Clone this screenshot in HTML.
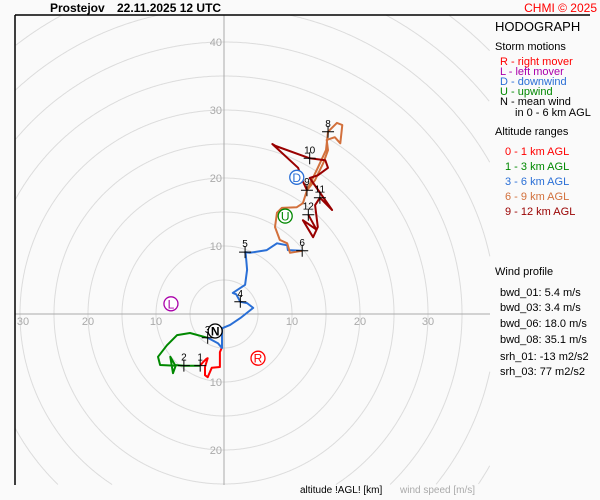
<!DOCTYPE html>
<html><head><meta charset="utf-8"><style>
html,body{margin:0;padding:0;background:#fafafa;width:600px;height:500px;overflow:hidden;}
svg{display:block;font-family:"Liberation Sans",sans-serif;}
</style></head><body>
<svg id="c" width="600" height="500" viewBox="0 0 600 500">
<rect width="600" height="500" fill="#fafafa"/>
<g id="rings"></g>
<g id="axes"></g>
<g id="series"></g>
<g id="marks"></g>
<line x1="15" y1="15" x2="590" y2="15" stroke="#000" stroke-width="1.5"/>
<line x1="15" y1="15" x2="15" y2="485" stroke="#000" stroke-width="1.5"/>
<text x="50" y="12" font-size="12" font-weight="bold">Prostejov</text>
<text x="117" y="12" font-size="12" font-weight="bold">22.11.2025 12 UTC</text>
<text x="597" y="12" font-size="12" fill="#f00" text-anchor="end">CHMI © 2025</text>
<g font-size="11">
<text x="495" y="31" font-size="13">HODOGRAPH</text>
<text x="495" y="50">Storm motions</text>
<text x="500" y="65" fill="#f00">R - right mover</text>
<text x="500" y="75" fill="#a0a">L - left mover</text>
<text x="500" y="85" fill="#2a6fd6">D - downwind</text>
<text x="500" y="95" fill="#080">U - upwind</text>
<text x="500" y="105">N - mean wind</text>
<text x="515" y="116">in 0 - 6 km AGL</text>
<text x="495" y="135">Altitude ranges</text>
<text x="505" y="155" fill="#f00">0 - 1 km AGL</text>
<text x="505" y="170" fill="#080">1 - 3 km AGL</text>
<text x="505" y="185" fill="#2a6fd6">3 - 6 km AGL</text>
<text x="505" y="200" fill="#d2703c">6 - 9 km AGL</text>
<text x="505" y="215" fill="#900">9 - 12 km AGL</text>
<text x="495" y="275">Wind profile</text>
<text x="500" y="296">bwd_01: 5.4 m/s</text>
<text x="500" y="311">bwd_03: 3.4 m/s</text>
<text x="500" y="327">bwd_06: 18.0 m/s</text>
<text x="500" y="343">bwd_08: 35.1 m/s</text>
<text x="500" y="360">srh_01: -13 m2/s2</text>
<text x="500" y="375">srh_03: 77 m2/s2</text>
</g>
<text x="300" y="493" font-size="10">altitude !AGL! [km]</text>
<text x="400" y="493" font-size="10" fill="#aaa">wind speed [m/s]</text>
</svg>
<script>
const ringValues=[5,10,15,20,25,30,35,40,45,50,55,60];
const axisTicks=[10,20,30,40];
const seg01U=[-0.3,-0.6,-0.6,-1.8,-2.4,-2.8,-2.8,-2.4,-2.6,-3.1,-3.5];
const seg01V=[-4.9,-5.6,-7.8,-7.9,-9.3,-9.0,-7.8,-6.5,-6.6,-7.1,-7.6];
const seg13U=[-3.5,-5.9,-7.2,-7.9,-7.5,-7.1,-9.4,-9.7,-8.4,-6.9,-5.0,-2.4];
const seg13V=[-7.6,-7.6,-7.5,-6.3,-8.7,-7.6,-7.5,-6.3,-4.6,-3.1,-2.8,-3.5];
const seg36U=[-2.4,-0.9,-0.3,-0.3,-0.3,0.9,2.4,4.3,3.4,2.4,1.8,1.3,3.1,3.4,3.2,3.1,3.8,6.3,7.8,9.3,9.4,11.5];
const seg36V=[-3.5,-4.3,-5.0,-3.5,-2.1,-1.6,-0.6,0.9,1.6,1.8,2.9,3.1,4.3,6.5,8.7,9.1,9.0,9.4,10.4,10.1,9.4,9.3];
const seg69U=[11.5,9.7,9.3,8.2,7.5,7.8,8.5,10.7,11.6,12.2,13.4,14.6,15.3,15.1,16.3,17.1,17.4,16.6,15.6,15.3,15.0,13.8,12.2];
const seg69V=[9.3,9.0,10.4,10.9,12.8,14.9,15.6,15.7,16.3,18.2,19.7,22.2,24.1,25.6,26.0,25.1,27.8,28.1,27.1,26.8,24.1,21.5,18.2];
const seg912U=[12.2,11.5,10.9,7.1,7.6,12.6,14.9,15.3,13.8,12.6,15.9,14.1,13.4,13.8,13.1,11.6,13.6,12.4];
const seg912V=[18.2,19.7,21.5,25.0,24.7,22.9,22.6,21.5,20.4,20.0,15.3,17.1,16.0,12.8,11.3,13.8,12.4,14.6];
const levelLabels=["1","2","3","4","5","6","8","9","10","11","12"];
const levelU=[-3.5,-5.9,-2.4,2.4,3.1,11.5,15.3,12.2,12.6,14.1,12.4];
const levelV=[-7.6,-7.6,-3.5,1.8,9.1,9.3,26.8,18.2,22.9,17.1,14.6];
const motionLabels=["R","L","D","U","N"];
const motionU=[5.0,-7.8,10.7,9.0,-1.3];
const motionV=[-6.5,1.5,20.1,14.4,-2.5];

const CX=224,CY=314,S=6.8;
const X0=15,X1=490,Y0=15,Y1=485;
const px=u=>CX+u*S, py=v=>CY-v*S;
const NS='http://www.w3.org/2000/svg';
function mk(tag,parent,attrs){const e=document.createElementNS(NS,tag);for(const k in attrs)e.setAttribute(k,attrs[k]);parent.appendChild(e);return e;}
const rings=document.getElementById('rings'),axes=document.getElementById('axes'),series=document.getElementById('series'),marks=document.getElementById('marks');
ringValues.forEach(r=>{
 const R=r*S;let d='',pen=false;
 for(let k=0;k<=1440;k++){const a=k/1440*2*Math.PI;const x=CX+R*Math.cos(a),y=CY-R*Math.sin(a);
  const inside=x>=X0&&x<=X1&&y>=Y0&&y<=Y1;
  if(inside){d+=(pen?'L':'M')+x.toFixed(1)+' '+y.toFixed(1);pen=true;}else pen=false;}
 if(!d)return;
 const c=mk('path',rings,{d:d,fill:'none',stroke:'#dcdcdc','stroke-width':1});
 
 });
let l=mk('line',axes,{x1:15,y1:CY,x2:490,y2:CY,stroke:'#aaa'});


l=mk('line',axes,{x1:CX,y1:15,x2:CX,y2:485,stroke:'#aaa'});


axisTicks.forEach(t=>{
 [px(t),px(-t)].forEach(x=>{if(x>14&&x<490){const e=mk('text',axes,{x:Math.max(x,23),y:CY+11,'font-size':11,fill:'#aaa','text-anchor':'middle'});e.textContent=t;
 
 }});
 [py(t),py(-t)].forEach(y=>{if(y>20&&y<485){const e=mk('text',axes,{x:CX-2,y:y+4,'font-size':11,fill:'#aaa','text-anchor':'end'});e.textContent=t;
 
 }});
});
function seg(U,V,col,name){const d=U.map((u,i)=>(i?'L':'M')+px(u).toFixed(1)+' '+py(V[i]).toFixed(1)).join(' ');
 const p=mk('path',series,{d:d,fill:'none',stroke:col,'stroke-width':2,'stroke-linejoin':'round'});
 
 }
seg(seg01U,seg01V,'#f00','segment-0-1km');
seg(seg13U,seg13V,'#080','segment-1-3km');
seg(seg36U,seg36V,'#2a6fd6','segment-3-6km');
seg(seg69U,seg69V,'#d2703c','segment-6-9km');
seg(seg912U,seg912V,'#900','segment-9-12km');
levelLabels.forEach((lab,i)=>{const x=px(levelU[i]),y=py(levelV[i]);
 const g=mk('g',marks,{});
 
 
 mk('path',g,{d:`M${x-6} ${y}H${x+6}M${x} ${y-6}V${y+6}`,stroke:'#000','stroke-width':1});
 const t=mk('text',g,{x:x,y:y-5,'font-size':10,'text-anchor':'middle'});t.textContent=lab;});
const mcol=['#f00','#a0a','#2a6fd6','#080','#000'];
motionLabels.forEach((lab,i)=>{const x=px(motionU[i]),y=py(motionV[i]);
 const g=mk('g',marks,{});
 
 
 mk('circle',g,{cx:x,cy:y,r:7,fill:'#fff',stroke:mcol[i],'stroke-width':1.3});
 const t=mk('text',g,{x:x,y:y+4.5,'font-size':12,'text-anchor':'middle',fill:mcol[i],'font-weight':lab==='N'?'bold':'normal'});t.textContent=lab;});
</script>
</body></html>
